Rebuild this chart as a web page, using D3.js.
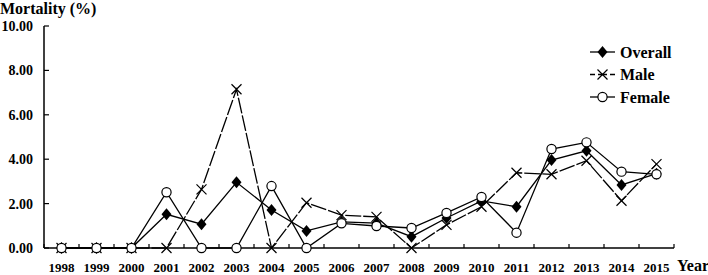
<!DOCTYPE html>
<html>
<head>
<meta charset="utf-8">
<script src="https://cdn.jsdelivr.net/npm/d3@7"></script>
<style>
  body { margin: 0; background: #fff; }
  svg text { font-family: "Liberation Serif", "Times New Roman", "DejaVu Serif", serif; font-weight: bold; fill: #000; }
</style>
</head>
<body>
<svg id="chart" width="708" height="275"></svg>
<script>
const years = ["1998","1999","2000","2001","2002","2003","2004","2005","2006","2007","2008","2009","2010","2011","2012","2013","2014","2015"];
const overall = [0, 0, 0, 1.52, 1.07, 2.96, 1.71, 0.77, 1.18, 1.12, 0.51, 1.35, 2.12, 1.86, 3.96, 4.38, 2.84, 3.35];
const male    = [0, 0, 0, 0, 2.64, 7.15, 0, 2.04, 1.48, 1.40, 0, 1.04, 1.86, 3.39, 3.32, 3.93, 2.13, 3.78];
const female  = [0, 0, 0, 2.51, 0, 0, 2.79, 0, 1.11, 0.99, 0.90, 1.58, 2.30, 0.69, 4.46, 4.76, 3.44, 3.32];
const yTicks = [0, 2, 4, 6, 8, 10];

const series = [
  { name: "Overall", values: overall, marker: "diamond", dash: null },
  { name: "Male", values: male, marker: "cross", dash: "16,2" },
  { name: "Female", values: female, marker: "circle", dash: null }
];

const FONT = '"Liberation Serif", "Times New Roman", "DejaVu Serif", serif';
const svg = d3.select("#chart");
const x = d3.scaleBand().domain(years).range([44, 674]);
const y = d3.scaleLinear().domain([0, 10]).range([248, 26]);

// axes
const xAxis = svg.append("g").attr("transform", "translate(0,248)");
xAxis.append("line").attr("x1", 44).attr("x2", 674).attr("stroke", "#000").attr("stroke-width", 1.5);
xAxis.selectAll(".tk").data(years.concat(["end"])).enter().append("line")
  .attr("x1", (d, i) => 44 + i * x.step()).attr("x2", (d, i) => 44 + i * x.step())
  .attr("y1", 0).attr("y2", -4).attr("stroke", "#000").attr("stroke-width", 1.2);
xAxis.selectAll(".lbl").data(years).enter().append("text")
  .attr("x", d => x(d) + x.bandwidth() / 2).attr("y", 24)
  .attr("font-family", FONT).attr("font-weight", "bold")
  .attr("text-anchor", "middle").attr("font-size", 13).text(d => d);

const yAxis = svg.append("g");
yAxis.append("line").attr("x1", 44).attr("x2", 44).attr("y1", y(10)).attr("y2", 248).attr("stroke", "#000").attr("stroke-width", 1.5);
yAxis.selectAll(".tk").data(yTicks).enter().append("line")
  .attr("x1", 44).attr("x2", 49).attr("y1", d => y(d)).attr("y2", d => y(d)).attr("stroke", "#000").attr("stroke-width", 1.2);
yAxis.selectAll(".lbl").data(yTicks).enter().append("text")
  .attr("x", 33).attr("y", d => y(d) + 5).attr("text-anchor", "end").attr("font-size", 14)
  .attr("font-family", FONT).attr("font-weight", "bold")
  .text(d => d3.format(".2f")(d));

svg.append("text").attr("x", 0).attr("y", 13.5).attr("font-size", 16)
  .attr("font-family", FONT).attr("font-weight", "bold").text("Mortality (%)");
svg.append("text").attr("x", 677).attr("y", 271).attr("font-size", 16)
  .attr("font-family", FONT).attr("font-weight", "bold").text("Year");

function drawMarker(g, type) {
  if (type === "diamond") {
    g.append("path").attr("d", "M0,-6L5,0L0,6L-5,0Z").attr("fill", "#000");
  } else if (type === "cross") {
    g.append("path").attr("d", "M-5,-5L5,5M-5,5L5,-5").attr("stroke", "#000").attr("stroke-width", 1.2).attr("fill", "none");
  } else {
    g.append("circle").attr("r", 4.6).attr("fill", "#fff").attr("stroke", "#000").attr("stroke-width", 1.2);
  }
}

const line = d3.line().x((d, i) => x(years[i]) + x.bandwidth() / 2).y(d => y(d));

series.forEach(s => {
  svg.append("path").datum(s.values).attr("d", line)
    .attr("fill", "none").attr("stroke", "#000").attr("stroke-width", 1.3)
    .attr("stroke-dasharray", s.dash);
});
// markers drawn after lines
series.forEach(s => {
  s.values.forEach((v, i) => {
    const g = svg.append("g").attr("transform", `translate(${x(years[i]) + x.bandwidth() / 2},${y(v)})`);
    drawMarker(g, s.marker);
  });
});

// legend
const legend = svg.append("g");
series.forEach((s, i) => {
  const ly = 52 + i * 22.5;
  legend.append("line").attr("x1", 590).attr("x2", 615).attr("y1", ly).attr("y2", ly)
    .attr("stroke", "#000").attr("stroke-width", 1.3).attr("stroke-dasharray", s.dash ? "5,3,9,3,5" : null);
  const g = legend.append("g").attr("transform", `translate(602.5,${ly})`);
  drawMarker(g, s.marker);
  legend.append("text").attr("x", 620).attr("y", ly + 5.5).attr("font-size", 16)
    .attr("font-family", FONT).attr("font-weight", "bold").text(s.name);
});
</script>
</body>
</html>
